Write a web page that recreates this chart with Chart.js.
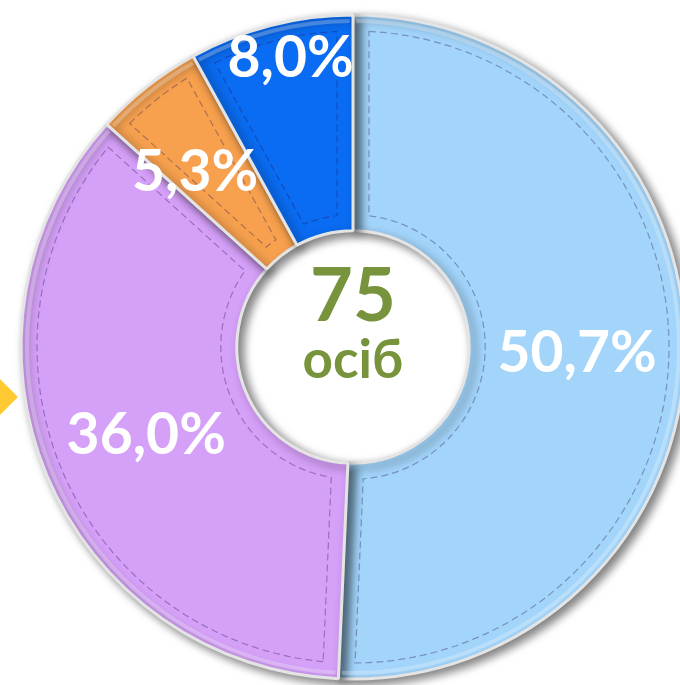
<!DOCTYPE html>
<html>
<head>
<meta charset="utf-8">
<script src="https://cdn.jsdelivr.net/npm/chart.js@4/dist/chart.umd.min.js"></script>
<style>
  html, body { margin: 0; padding: 0; background: #fff; overflow: hidden; }
  #wrap { position: relative; width: 680px; height: 685px; overflow: hidden; }
  #marker {
    position: absolute; left: -22px; top: 377px; width: 40px; height: 40px;
    background: #ffc932; clip-path: polygon(50% 0, 100% 50%, 50% 100%, 0 50%);
  }
</style>
</head>
<body>
<div id="wrap">
  <canvas id="donut" width="700" height="685"></canvas>
  <div id="marker"></div>
</div>
<script>
const categories = ['A', 'B', 'C', 'D'];
const shares = [50.7, 36.0, 5.3, 8.0];
const shareLabels = ['50,7%', '36,0%', '5,3%', '8,0%'];
const totalPeople = '75';
const totalUnit = 'осіб';

const sliceColors = ['#a3d5fb', '#d5a0f8', '#f7a14f', '#0a6cf2'];

// label radius as a fraction of the ring (0 = inner edge, 1 = outer edge)
const labelRing = [0.5, 0.5, 0.56, 0.84];
// small angular nudge for labels (radians)
const labelTurn = [0, 0, -0.06, 0.04];

const bevelPlugin = {
    id: 'bevel',
    beforeDatasetsDraw(chart) {
        const ctx = chart.ctx;
        ctx.save();
        ctx.shadowColor = 'rgba(0, 0, 0, 0.5)';
        ctx.shadowBlur = 10;
        ctx.shadowOffsetX = 5;
        ctx.shadowOffsetY = 4;
    },
    afterDatasetsDraw(chart) {
        const ctx = chart.ctx;
        ctx.restore();

        // inset outline inside every slice
        const arcs = chart.getDatasetMeta(0).data;
        arcs.forEach((arc) => {
            const p = arc.getProps(['x', 'y', 'startAngle', 'endAngle', 'innerRadius', 'outerRadius']);
            const inset = 16;
            const rOut = p.outerRadius - inset;
            const rIn = p.innerRadius + inset;
            const aOut = inset / rOut;
            const aIn = inset / rIn;
            if (p.endAngle - p.startAngle < 2 * aIn + 0.02) return;
            ctx.save();
            ctx.beginPath();
            ctx.arc(p.x, p.y, rOut, p.startAngle + aOut, p.endAngle - aOut);
            ctx.arc(p.x, p.y, rIn, p.endAngle - aIn, p.startAngle + aIn, true);
            ctx.closePath();
            ctx.lineWidth = 1.2;
            ctx.setLineDash([7, 4]);
            ctx.strokeStyle = 'rgba(40, 20, 80, 0.35)';
            ctx.stroke();
            ctx.restore();

            // soft highlight along outer rim
            ctx.save();
            ctx.beginPath();
            ctx.arc(p.x, p.y, p.outerRadius - 6, p.startAngle + 0.01, p.endAngle - 0.01);
            ctx.lineWidth = 4;
            ctx.strokeStyle = 'rgba(255, 255, 255, 0.25)';
            ctx.stroke();
            ctx.restore();
        });
    },
    afterDraw(chart) {
        const ctx = chart.ctx;
        const arcs = chart.getDatasetMeta(0).data;
        ctx.save();
        ctx.textAlign = 'center';
        ctx.textBaseline = 'middle';
        ctx.fillStyle = '#ffffff';
        ctx.font = 'bold 57px Lato';
        arcs.forEach((arc, i) => {
            const p = arc.getProps(['x', 'y', 'startAngle', 'endAngle', 'innerRadius', 'outerRadius']);
            const mid = (p.startAngle + p.endAngle) / 2 + labelTurn[i];
            const r = p.innerRadius + (p.outerRadius - p.innerRadius) * labelRing[i];
            ctx.fillText(shareLabels[i], p.x + r * Math.cos(mid), p.y + r * Math.sin(mid) + 2);
        });

        const c = arcs[0];
        ctx.fillStyle = '#77933c';
        ctx.textBaseline = 'alphabetic';
        ctx.font = 'bold 74px Lato';
        ctx.fillText(totalPeople, c.x, c.y - 26);
        ctx.font = 'bold 53px Lato';
        ctx.fillText(totalUnit, c.x, c.y + 31);
        ctx.restore();
    }
};

new Chart(document.getElementById('donut'), {
    type: 'doughnut',
    data: {
        labels: categories,
        datasets: [{
            data: shares,
            backgroundColor: sliceColors,
            borderColor: '#e4e4e4',
            borderWidth: 3
        }]
    },
    options: {
        responsive: false,
        animation: false,
        cutout: '35%',
        layout: {
            padding: { left: 19.5, top: 13.5, right: 13.5, bottom: 4.5 }
        },
        plugins: {
            legend: { display: false },
            tooltip: { enabled: false }
        }
    },
    plugins: [bevelPlugin]
});
</script>
</body>
</html>
